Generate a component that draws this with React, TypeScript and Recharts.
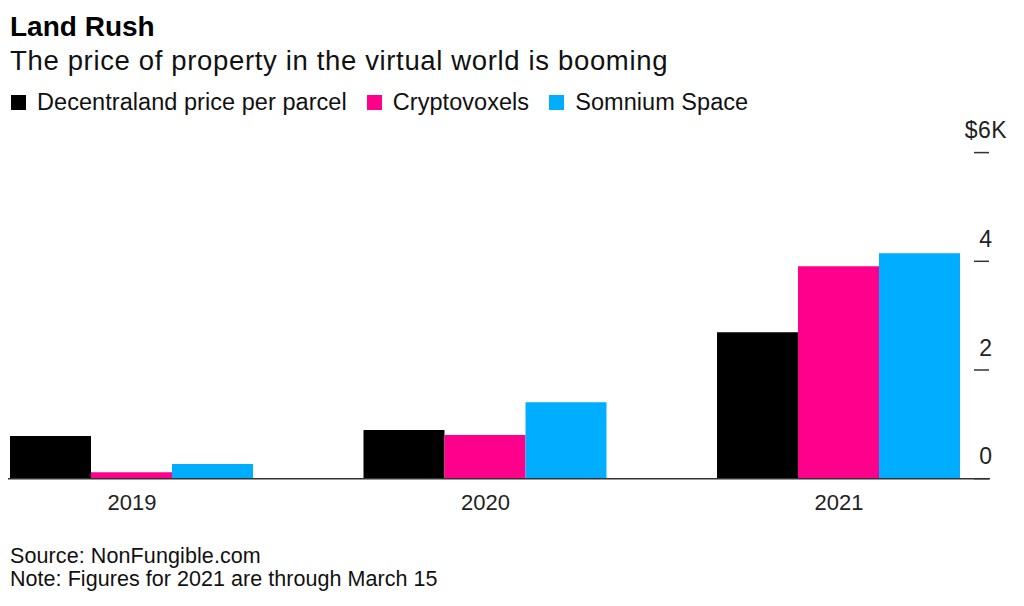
import React from 'react';
import { BarChart, Bar, XAxis, YAxis } from 'recharts';

// values in US$ per parcel
const years = ['2019', '2020', '2021'];
const decentraland = [785, 895, 2695];
const cryptovoxels = [120, 805, 3910];
const somnium = [270, 1405, 4150];
const yTicks = [0, 2000, 4000, 6000];

const series = [
  { key: 'decentraland', name: 'Decentraland price per parcel', color: '#000000' },
  { key: 'cryptovoxels', name: 'Cryptovoxels', color: '#ff008c' },
  { key: 'somnium', name: 'Somnium Space', color: '#00adff' },
];

const data = years.map((year, i) => ({
  year,
  decentraland: decentraland[i],
  cryptovoxels: cryptovoxels[i],
  somnium: somnium[i],
}));

const FONT = '"Liberation Sans", Arial, Helvetica, sans-serif';

const formatY = (v: number) => (v === 6000 ? '$6K' : `${v / 1000}`);

// right-hand axis: short dash with the label sitting above it
const YTick = (props: any) => {
  const { x, y, payload } = props;
  return (
    <g>
      <line x1={x - 16} x2={x - 1} y1={y} y2={y} stroke="#333" strokeWidth={1.5} />
      <text
        x={x - 4}
        y={y - 14.5}
        textAnchor="middle"
        fontSize={23}
        letterSpacing={0.5}
        fill="#222"
        fontFamily={FONT}
      >
        {formatY(payload.value)}
      </text>
    </g>
  );
};

const abs = (top: number, extra: React.CSSProperties = {}): React.CSSProperties => ({
  position: 'absolute',
  left: 10,
  top,
  lineHeight: 1,
  whiteSpace: 'nowrap',
  fontFamily: FONT,
  ...extra,
});

export default function App() {
  return (
    <div style={{ position: 'relative', width: 1024, height: 606, background: '#fff', overflow: 'hidden' }}>
      <style>{`body { margin: 0; }`}</style>
      <BarChart
        width={1024}
        height={606}
        data={data}
        margin={{ top: 152.6, right: 0, bottom: 87.3, left: 8 }}
        barCategoryGap={54.75}
        barGap={0}
        style={{ position: 'absolute', top: 0, left: 0 }}
      >
        <XAxis
          dataKey="year"
          height={40}
          padding={{ left: -52.75, right: -25.75 }}
          axisLine={{ stroke: '#333', strokeWidth: 1.5 }}
          tickLine={false}
          tickSize={6}
          tickMargin={10}
          tick={{ fill: '#222', fontSize: 22, fontFamily: FONT }}
          interval={0}
        />
        <YAxis
          orientation="right"
          width={34}
          domain={[0, 6000]}
          ticks={yTicks}
          interval={0}
          axisLine={false}
          tickLine={false}
          tickSize={0}
          tickMargin={0}
          tick={<YTick />}
        />
        {series.map((s) => (
          <Bar key={s.key} dataKey={s.key} name={s.name} fill={s.color} isAnimationActive={false} />
        ))}
      </BarChart>

      <div style={abs(12.8, { fontSize: 28, fontWeight: 700, color: '#000' })}>Land Rush</div>
      <div style={abs(47.4, { fontSize: 27.5, color: '#111', letterSpacing: 0.65 })}>
        The price of property in the virtual world is booming
      </div>
      <div
        style={abs(90.8, {
          left: 11,
          fontSize: 23.5,
          color: '#111',
          letterSpacing: 0.05,
          display: 'flex',
          alignItems: 'center',
        })}
      >
        {series.map((s) => (
          <div key={s.key} style={{ display: 'flex', alignItems: 'center', marginRight: 20 }}>
            <span style={{ display: 'inline-block', width: 15, height: 15, background: s.color, marginRight: 11 }} />
            <span>{s.name}</span>
          </div>
        ))}
      </div>
      <div style={abs(546.3, { fontSize: 21.5, color: '#111', letterSpacing: 0.1 })}>Source: NonFungible.com</div>
      <div style={abs(568.7, { fontSize: 21.5, color: '#111', letterSpacing: 0.05 })}>
        Note: Figures for 2021 are through March 15
      </div>
    </div>
  );
}
